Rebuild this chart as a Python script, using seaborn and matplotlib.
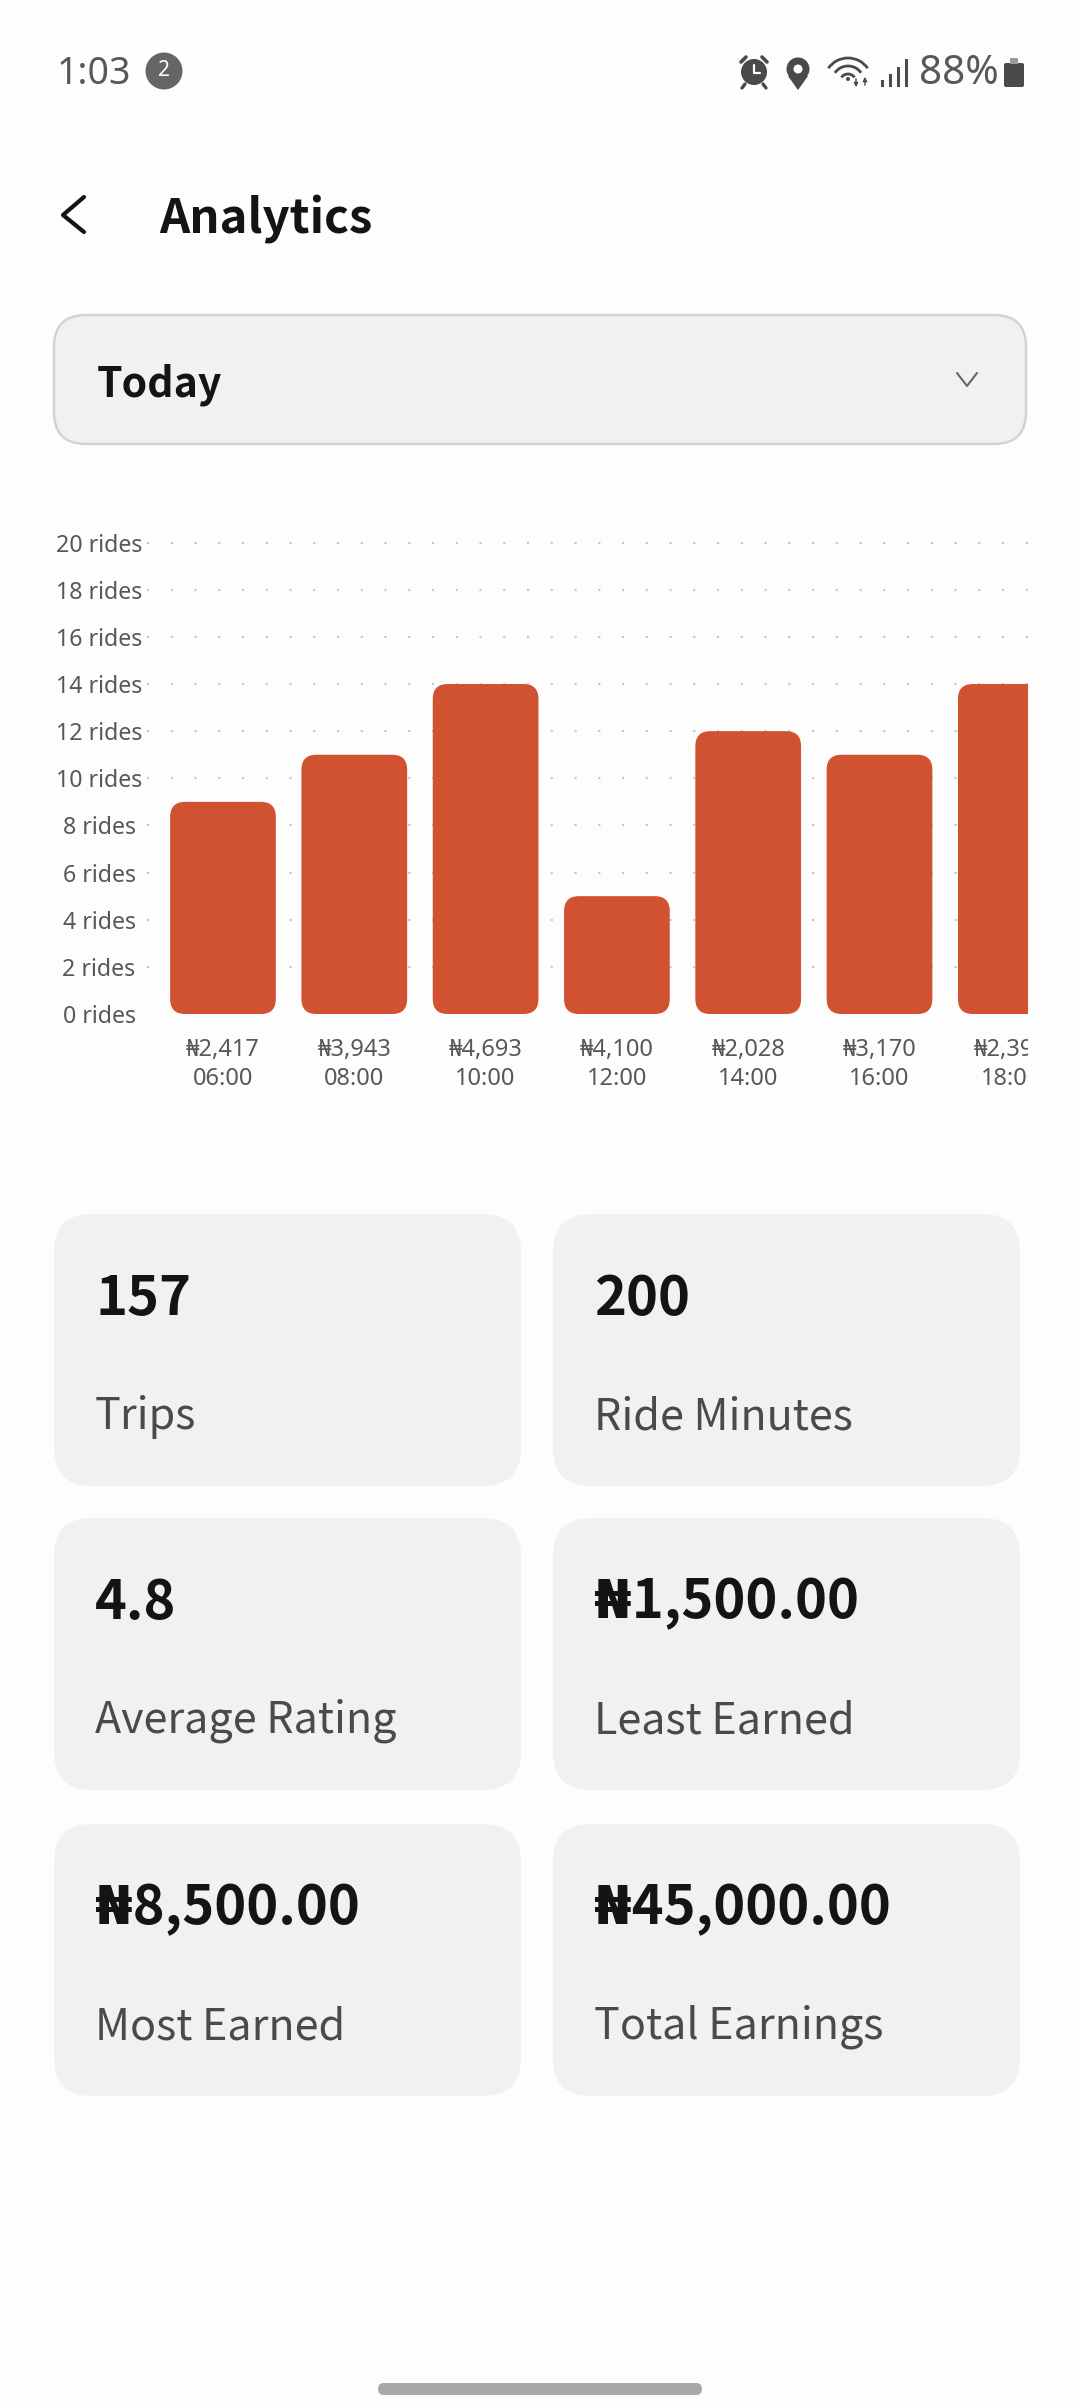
"""
Analytics screen: rides per two-hour slot plus summary cards.
"""
import matplotlib
matplotlib.use("Agg")
import matplotlib.pyplot as plt
from matplotlib.patches import FancyBboxPatch, Circle, Rectangle, Arc, Polygon
from matplotlib.transforms import Bbox
import pandas as pd
import seaborn as sns

HOURS = ["06:00", "08:00", "10:00", "12:00", "14:00", "16:00", "18:00"]
RIDES = [9, 11, 14, 5, 12, 11, 14]
EARNED = ["₦2,417", "₦3,943", "₦4,693", "₦4,100", "₦2,028", "₦3,170", "₦2,390"]
Y_TICKS = [0, 2, 4, 6, 8, 10, 12, 14, 16, 18, 20]

CARD_VALUES = ["157", "200", "4.8", "₦1,500.00", "₦8,500.00", "₦45,000.00"]
CARD_LABELS = ["Trips", "Ride Minutes", "Average Rating", "Least Earned",
               "Most Earned", "Total Earnings"]

BG = "#fdfdfd"
CARD = "#f1f1f1"
BAR = "#d05230"
DARK = "#141414"
GREY = "#585858"
FONT = ["Noto Sans", "DejaVu Sans"]
HEAVY = ["Noto Sans CJK SC", "DejaVu Sans"]

W, H = 1080, 2408
Y0_PX, PX_PER_RIDE = 1014, 23.57
SLOT_PX, FIRST_PX = 131.3, 223
LEFT_PX, RIGHT_PX = 147, 1028

sns.set_theme(style="white")
plt.rcParams["font.family"] = FONT

fig = plt.figure(figsize=(W / 100, H / 100), dpi=100, facecolor=BG)

# ── screen chrome, in pixel coordinates ──────────────────────────────────────
ui = fig.add_axes([0, 0, 1, 1])
ui.set_xlim(0, W)
ui.set_ylim(H, 0)
ui.axis("off")


def rounded(x, y, w, h, r, **kw):
    ui.add_patch(FancyBboxPatch((x, y), w, h, boxstyle=f"round,pad=0,rounding_size={r}", **kw))


# status bar
ui.text(57, 74, "1:03", fontsize=27, color=GREY, va="center", fontweight="light")
ui.add_patch(Circle((164, 71), 18.5, color="#666666", lw=0))
ui.text(164, 71, "2", fontsize=15, color="white", ha="center", va="center")
ui.add_patch(Circle((754, 72), 13, color="#4a4a4a", lw=0))
ui.plot([754, 754, 760], [65, 73, 73], color="white", lw=1.6)
ui.plot([741, 746], [62, 57], color="#4a4a4a", lw=2.6)
ui.plot([767, 762], [62, 57], color="#4a4a4a", lw=2.6)
ui.plot([745, 742], [84, 88], color="#4a4a4a", lw=2.4)
ui.plot([763, 766], [84, 88], color="#4a4a4a", lw=2.4)
ui.add_patch(Polygon([(788, 76), (808, 76), (798, 90)], color="#4a4a4a", lw=0))
ui.add_patch(Circle((798, 69), 11.5, color="#4a4a4a", lw=0))
ui.add_patch(Circle((798, 69), 4.5, color=BG, lw=0))
for radius in (8, 16, 24):
    ui.add_patch(Arc((848, 82), radius * 2, radius * 2, theta1=215, theta2=325,
                     color="#4a4a4a", lw=2))
ui.add_patch(Circle((848, 79), 2, color="#4a4a4a", lw=0))
ui.annotate("", (856, 90), (856, 76), arrowprops=dict(arrowstyle="-|>", color="#4a4a4a", lw=1, mutation_scale=6))
ui.annotate("", (865, 74), (865, 88), arrowprops=dict(arrowstyle="-|>", color="#4a4a4a", lw=1, mutation_scale=6))
for bx, top in zip((882, 890, 898, 906), (80, 74, 67, 59)):
    ui.add_patch(Rectangle((bx - 1, top), 2.5, 87 - top, color="#4a4a4a", lw=0))
ui.text(919, 74, "88%", fontsize=29, color=GREY, va="center", fontweight="light")
rounded(1004, 63, 20, 24, 2, fc="#4a4a4a", ec="none")
ui.add_patch(Rectangle((1010, 58), 8, 6, color="#9a9a9a", lw=0))

# header and dropdown
ui.plot([84, 63, 84], [197, 215, 232], color=DARK, lw=3, solid_capstyle="round", solid_joinstyle="round")
ui.text(159, 219, "Analytics", fontsize=34, fontweight="bold", family=HEAVY, color=DARK, va="center")
rounded(54, 315, 972, 129, 32, fc=CARD, ec="#d1d4d7", lw=1.8)
ui.text(97, 385, "Today", fontsize=29.5, fontweight="bold", family=HEAVY, color=DARK, va="center")
ui.plot([957, 967, 977], [373, 386, 373], color="#666666", lw=1.5)

# summary cards
COL_X = [54, 553]
ROW_Y = [1214, 1518, 1824]
for i, (value, label) in enumerate(zip(CARD_VALUES, CARD_LABELS)):
    cx, cy = COL_X[i % 2], ROW_Y[i // 2]
    rounded(cx, cy, 467, 272, 38, fc=CARD, ec="none")
    ui.text(cx + 41, cy + 85, value, fontsize=39, fontweight="bold", family=HEAVY, color=DARK, va="center")
    ui.text(cx + 41, cy + 203, label, fontsize=31, fontweight=500, family=HEAVY, color="#4a4a4a", va="center")

rounded(378, 2383, 324, 12, 6, fc="#a9a9a9", ec="none")

# ── bar chart ────────────────────────────────────────────────────────────────
top_val = 20.5
ax = fig.add_axes([LEFT_PX / W, 1 - Y0_PX / H, (RIGHT_PX - LEFT_PX) / W, top_val * PX_PER_RIDE / H])
ax.patch.set_alpha(0)

df = pd.DataFrame({"hour": HOURS, "rides": RIDES})
sns.barplot(data=df, x="hour", y="rides", color=BAR, saturation=1, width=0.805, ax=ax)

ax.set_xlim((LEFT_PX - FIRST_PX) / SLOT_PX, (RIGHT_PX - FIRST_PX) / SLOT_PX)
ax.set_ylim(0, top_val)
ax.set_xlabel("")
ax.set_ylabel("")
sns.despine(ax=ax, left=True, bottom=True)

# swap seaborn's square bars for rounded ones of the same size
radius_px = 15
for bar in list(ax.patches):
    ax.add_patch(FancyBboxPatch(
        (bar.get_x(), bar.get_y()), bar.get_width(), bar.get_height(),
        boxstyle=f"round,pad=0,rounding_size={radius_px / SLOT_PX}",
        mutation_aspect=SLOT_PX / PX_PER_RIDE, fc=BAR, ec="none", zorder=3))
    bar.set_visible(False)

ax.set_yticks(Y_TICKS)
ax.set_yticklabels([f"{t} rides" for t in Y_TICKS], ha="center", fontsize=16.7, color=GREY)
ax.set_xticks(range(len(HOURS)))
ax.set_xticklabels([f"{e}\n{h}" for e, h in zip(EARNED, HOURS)], fontsize=17, color=GREY, linespacing=1.28)
ax.tick_params(axis="y", length=0, pad=(LEFT_PX - 99) / 1.389)
ax.tick_params(axis="x", length=0, pad=17)

ax.set_axisbelow(True)
ax.yaxis.grid(True, color="#c6c6c6", lw=1.5, linestyle=(0, (1, 10.4)))
ax.yaxis.get_gridlines()[0].set_visible(False)

# the chart is cut off at the right edge of the screen
clip = Bbox([[0, 0], [RIGHT_PX, H]])
for lab in ax.get_xticklabels():
    lab.set_clip_on(True)
    lab.set_clip_box(clip)

fig.savefig("out.png", dpi=100, facecolor=BG)
